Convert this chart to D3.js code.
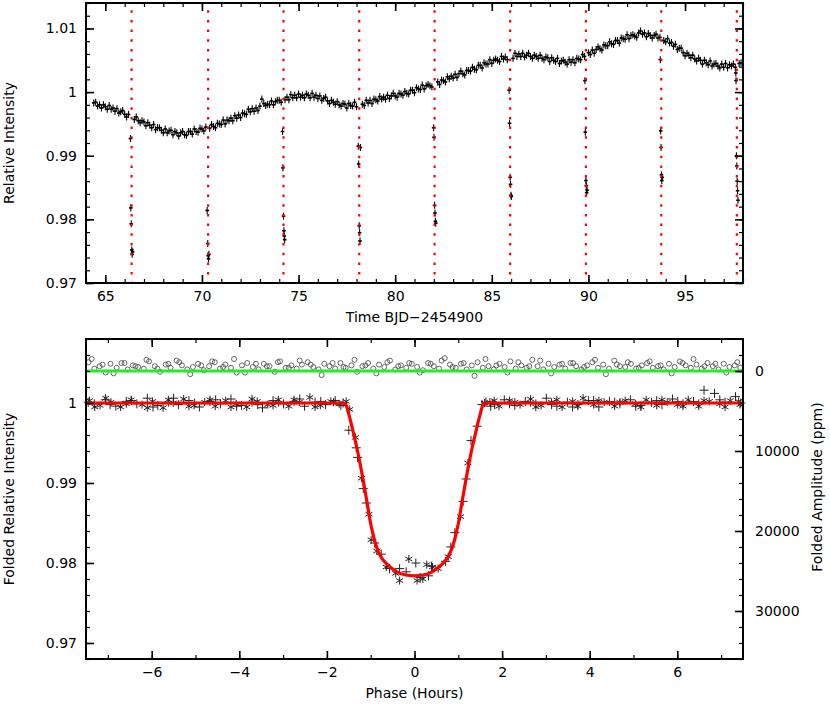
<!DOCTYPE html>
<html>
<head>
<meta charset="utf-8">
<script src="https://cdn.jsdelivr.net/npm/d3@7"></script>
<style>
  body { margin: 0; background: #fff; }
  text { font-family: "DejaVu Sans", sans-serif; font-size: 14px; fill: #000; }
</style>
</head>
<body>
<script>
// light curve out of transit: [time BJD-2454900, relative intensity]
var lightCurve = [
  [64.4,0.9983],[64.5,0.9984],[64.6,0.9978],[64.7,0.9980],[64.8,0.9975],[64.9,0.9980],
  [65.0,0.9977],[65.1,0.9973],[65.2,0.9979],[65.3,0.9973],[65.4,0.9975],[65.5,0.9970],[65.6,0.9974],[65.7,0.9967],[65.8,0.9969],[65.9,0.9971],
  [66.0,0.9965],[66.1,0.9961],[66.2,0.9965],[66.5,0.9957],[66.6,0.9961],[66.7,0.9955],[66.8,0.9952],[66.9,0.9955],
  [67.0,0.9953],[67.1,0.9947],[67.2,0.9952],[67.3,0.9948],[67.4,0.9944],[67.5,0.9949],[67.6,0.9941],[67.7,0.9944],[67.8,0.9944],[67.9,0.9940],
  [68.0,0.9936],[68.1,0.9942],[68.2,0.9936],[68.3,0.9939],[68.4,0.9940],[68.5,0.9933],[68.6,0.9938],[68.7,0.9936],[68.8,0.9931],[68.9,0.9936],
  [69.0,0.9938],[69.1,0.9933],[69.2,0.9932],[69.3,0.9938],[69.4,0.9938],[69.5,0.9934],[69.6,0.9942],[69.7,0.9938],[69.8,0.9937],[69.9,0.9943],
  [70.0,0.9942],[70.1,0.9939],[70.2,0.9945],[70.4,0.9943],[70.5,0.9949],[70.6,0.9946],[70.7,0.9944],[70.8,0.9951],[70.9,0.9950],
  [71.0,0.9949],[71.1,0.9956],[71.2,0.9950],[71.3,0.9956],[71.4,0.9955],[71.5,0.9959],[71.6,0.9955],[71.7,0.9963],[71.8,0.9959],[71.9,0.9964],
  [72.0,0.9960],[72.1,0.9967],[72.2,0.9966],[72.3,0.9965],[72.4,0.9973],[72.5,0.9969],[72.6,0.9974],[72.7,0.9970],[72.8,0.9975],[72.9,0.9971],
  [73.0,0.9978],[73.1,0.9989],[73.2,0.9982],[73.3,0.9979],[73.4,0.9981],[73.5,0.9980],[73.6,0.9986],[73.7,0.9980],[73.8,0.9985],[73.9,0.9987],
  [74.0,0.9987],[74.1,0.9984],[74.3,0.9988],[74.4,0.9992],[74.5,0.9988],[74.6,0.9996],[74.7,0.9991],[74.8,0.9995],[74.9,0.9991],
  [75.0,0.9997],[75.1,0.9992],[75.2,0.9995],[75.3,0.9991],[75.4,0.9997],[75.5,0.9995],[75.6,0.9991],[75.7,0.9998],[75.8,0.9992],[75.9,0.9995],
  [76.0,0.9990],[76.1,0.9994],[76.2,0.9987],[76.3,0.9990],[76.4,0.9992],[76.5,0.9986],[76.6,0.9982],[76.7,0.9987],[76.8,0.9984],[76.9,0.9981],
  [77.0,0.9985],[77.1,0.9980],[77.2,0.9978],[77.3,0.9982],[77.4,0.9981],[77.5,0.9975],[77.6,0.9982],[77.7,0.9979],[77.8,0.9978],[77.9,0.9984],
  [78.0,0.9977],[78.3,0.9981],[78.4,0.9979],[78.5,0.9987],[78.6,0.9983],[78.7,0.9987],[78.8,0.9982],[78.9,0.9989],
  [79.0,0.9988],[79.1,0.9986],[79.2,0.9993],[79.3,0.9989],[79.4,0.9992],[79.5,0.9989],[79.6,0.9995],[79.7,0.9990],[79.8,0.9994],[79.9,0.9998],
  [80.0,0.9994],[80.1,0.9992],[80.2,0.9998],[80.3,0.9997],[80.4,0.9995],[80.5,1.0001],[80.6,0.9998],[80.7,0.9997],[80.8,1.0003],[80.9,1.0003],
  [81.0,0.9999],[81.1,1.0007],[81.2,1.0005],[81.3,1.0004],[81.4,1.0011],[81.5,1.0005],[81.6,1.0010],[81.7,1.0012],[81.8,1.0010],[81.9,1.0008],
  [82.2,1.0016],[82.3,1.0012],[82.4,1.0019],[82.5,1.0018],[82.6,1.0016],[82.7,1.0024],[82.8,1.0021],[82.9,1.0025],
  [83.0,1.0022],[83.1,1.0028],[83.2,1.0023],[83.3,1.0029],[83.4,1.0033],[83.5,1.0029],[83.6,1.0027],[83.7,1.0034],[83.8,1.0034],[83.9,1.0033],
  [84.0,1.0039],[84.1,1.0036],[84.2,1.0035],[84.3,1.0042],[84.4,1.0042],[84.5,1.0038],[84.6,1.0046],[84.7,1.0044],[84.8,1.0044],[84.9,1.0051],
  [85.0,1.0045],[85.1,1.0050],[85.2,1.0052],[85.3,1.0050],[85.4,1.0048],[85.5,1.0056],[85.6,1.0052],[85.7,1.0055],[85.8,1.0051],
  [86.1,1.0053],[86.2,1.0061],[86.3,1.0056],[86.4,1.0060],[86.5,1.0056],[86.6,1.0061],[86.7,1.0055],[86.8,1.0058],[86.9,1.0061],
  [87.0,1.0056],[87.1,1.0053],[87.2,1.0058],[87.3,1.0056],[87.4,1.0053],[87.5,1.0058],[87.6,1.0053],[87.7,1.0051],[87.8,1.0055],[87.9,1.0054],
  [88.0,1.0048],[88.1,1.0054],[88.2,1.0050],[88.3,1.0048],[88.4,1.0053],[88.5,1.0045],[88.6,1.0049],[88.7,1.0050],[88.8,1.0047],[88.9,1.0044],
  [89.0,1.0051],[89.1,1.0047],[89.2,1.0051],[89.3,1.0046],[89.4,1.0053],[89.5,1.0052],[89.6,1.0051],[89.7,1.0059],[89.8,1.0056],
  [90.0,1.0062],[90.1,1.0059],[90.2,1.0066],[90.3,1.0061],[90.4,1.0067],[90.5,1.0071],[90.6,1.0068],[90.7,1.0066],[90.8,1.0074],[90.9,1.0073],
  [91.0,1.0073],[91.1,1.0079],[91.2,1.0076],[91.3,1.0075],[91.4,1.0081],[91.5,1.0081],[91.6,1.0077],[91.7,1.0085],[91.8,1.0084],[91.9,1.0083],
  [92.0,1.0090],[92.1,1.0084],[92.2,1.0089],[92.3,1.0090],[92.4,1.0088],[92.5,1.0086],[92.6,1.0093],[92.7,1.0096],[92.8,1.0091],[92.9,1.0093],
  [93.0,1.0087],[93.1,1.0092],[93.2,1.0089],[93.3,1.0085],[93.4,1.0089],[93.5,1.0091],[93.6,1.0085],[93.7,1.0086],[93.9,1.0081],
  [94.0,1.0079],[94.1,1.0084],[94.2,1.0077],[94.3,1.0078],[94.4,1.0072],[94.5,1.0075],[94.6,1.0067],[94.7,1.0069],[94.8,1.0069],[94.9,1.0062],
  [95.0,1.0057],[95.1,1.0061],[95.2,1.0058],[95.3,1.0054],[95.4,1.0058],[95.5,1.0052],[95.6,1.0049],[95.7,1.0053],[95.8,1.0050],[95.9,1.0044],
  [96.0,1.0050],[96.1,1.0046],[96.2,1.0043],[96.3,1.0049],[96.4,1.0041],[96.5,1.0044],[96.6,1.0045],[96.7,1.0041],[96.8,1.0038],[96.9,1.0044],
  [97.0,1.0039],[97.1,1.0045],[97.2,1.0038],[97.3,1.0043],[97.4,1.0041],[97.5,1.0044],[97.6,1.0039],[97.8,1.0045],[97.9,1.0046]
];

// points taken during the nine transits
var transitPoints = [
  [66.30,0.9927],[66.32,0.9818],[66.34,0.9793],[66.37,0.9752],[66.39,0.9745],[66.41,0.9749],
  [70.27,0.9814],[70.30,0.9762],[70.32,0.9743],[70.34,0.9738],[70.36,0.9745],
  [74.17,0.9938],[74.19,0.9881],[74.22,0.9805],[74.24,0.9782],[74.26,0.9774],[74.28,0.9768],
  [78.09,0.9915],[78.11,0.9887],[78.14,0.9790],[78.16,0.9779],[78.18,0.9766],[78.20,0.9913],
  [81.99,0.9944],[82.01,0.9929],[82.04,0.9822],[82.06,0.9810],[82.08,0.9797],[82.10,0.9794],
  [85.90,1.0003],[85.92,0.9951],[85.95,0.9866],[85.97,0.9855],[85.99,0.9838],[86.01,0.9836],
  [89.82,1.0018],[89.84,0.9937],[89.87,0.9861],[89.89,0.9853],[89.91,0.9842],[89.93,0.9846],
  [93.72,1.0051],[93.74,0.9939],[93.76,0.9913],[93.78,0.9870],[93.80,0.9861],[93.82,0.9866],
  [97.63,1.0030],[97.64,1.0018],[97.66,0.9900],[97.68,0.9884],[97.70,0.9860],[97.72,0.9845],[97.74,0.9830]
];
var lcError = 0.00055;

// mid-transit times (red dotted lines)
var transitTimes = [66.36, 70.32, 74.22, 78.14, 82.04, 85.95, 89.87, 93.77, 97.68];

// folded light curve, two symbol sets: [phase hours, relative intensity]
var foldedStar = [
  [-7.42,1.0003],[-7.18,0.9997],[-6.93,1.0001],[-6.71,0.9995],[-6.47,1.0004],[-6.22,0.9998],[-5.98,1.0002],[-5.74,0.9994],
  [-5.51,1.0000],[-5.27,1.0005],[-5.03,0.9997],[-4.79,1.0001],[-4.55,0.9996],[-4.31,1.0003],[-4.07,0.9999],[-3.83,0.9995],
  [-3.59,1.0002],[-3.35,0.9998],[-3.11,1.0004],[-2.87,0.9996],[-2.63,1.0001],[-2.39,1.0007],[-2.15,0.9997],[-1.91,1.0002],[-1.72,0.9999],
  [-7.30,0.9995],[-7.05,1.0006],[-6.58,0.9999],[-6.10,0.9994],[-5.62,1.0004],[-5.15,0.9996],[-4.67,1.0004],[-4.19,0.9995],
  [-3.71,1.0005],[-3.23,0.9997],[-2.75,1.0004],[-2.27,0.9995],[-1.85,1.0001],
  [-1.56,1.0002],[-1.48,0.9992],[-1.35,0.9957],[-1.21,0.9906],[-1.04,0.9861],[-0.99,0.9829],[-0.86,0.9815],[-0.645,0.9795],
  [-0.43,0.9787],[-0.34,0.9778],[-0.13,0.9805],[0.06,0.9778],[0.19,0.9780],[0.28,0.9798],[0.41,0.9795],[0.54,0.9793],
  [0.77,0.9808],[1.05,0.9858],[1.22,0.9925],[1.60,1.0000],
  [1.72,1.0001],[1.93,0.9996],[2.17,1.0003],[2.41,0.9998],[2.65,1.0005],[2.89,0.9997],[3.13,1.0001],[3.37,0.9995],
  [3.61,1.0002],[3.85,1.0006],[4.09,0.9998],[4.33,1.0001],[4.57,0.9996],[4.81,1.0003],[5.05,0.9999],[5.29,1.0004],
  [5.53,0.9997],[5.77,1.0001],[6.01,0.9998],[6.25,1.0004],[6.49,0.9996],[6.73,1.0002],[6.97,0.9999],[7.21,1.0003],[7.43,0.9998],
  [1.82,1.0003],[2.29,1.0001],[2.77,0.9995],[3.25,1.0004],[3.73,0.9996],[4.21,1.0003],[4.69,1.0001],[5.17,0.9995],
  [5.65,1.0004],[6.13,0.9996],[6.61,1.0003],[7.09,0.9995],[7.40,1.0002]
];
var foldedPlus = [
  [-7.31,0.9999],[-7.06,1.0004],[-6.82,0.9996],[-6.58,1.0002],[-6.34,0.9999],[-6.10,1.0006],[-5.86,0.9997],[-5.62,1.0001],
  [-5.39,0.9998],[-5.15,1.0003],[-4.91,0.9995],[-4.67,1.0002],[-4.43,0.9999],[-4.19,1.0005],[-3.95,0.9997],[-3.71,1.0001],
  [-3.47,0.9994],[-3.23,1.0003],[-2.99,0.9999],[-2.75,1.0002],[-2.51,0.9996],[-2.27,1.0001],[-2.03,0.9998],[-1.81,1.0003],[-1.63,1.0000],
  [-7.45,1.0001],[-6.95,0.9998],[-6.46,1.0003],[-5.97,0.9995],[-5.50,1.0006],[-5.02,1.0000],[-4.54,1.0004],[-4.06,0.9996],
  [-3.58,0.9998],[-3.10,1.0001],[-2.62,1.0005],[-2.14,1.0002],[-1.68,0.9997],
  [-1.50,0.9966],[-1.33,0.9944],[-1.30,0.9932],[-1.17,0.9893],[-1.10,0.9875],[-0.91,0.9825],[-0.76,0.9811],[-0.57,0.9793],
  [-0.34,0.9793],[-0.19,0.9789],[0.03,0.9800],[0.13,0.9782],[0.32,0.9784],[0.39,0.9796],[0.71,0.9802],[0.83,0.9820],
  [0.92,0.9838],[1.11,0.9877],[1.18,0.9905],[1.29,0.9953],[1.43,0.9971],[1.54,0.9998],
  [1.63,1.0001],[1.83,0.9998],[2.05,1.0004],[2.29,0.9997],[2.53,1.0002],[2.77,0.9999],[3.01,1.0006],[3.25,0.9996],
  [3.49,1.0001],[3.73,0.9998],[3.97,1.0003],[4.21,0.9995],[4.45,1.0002],[4.69,0.9999],[4.93,1.0004],[5.17,0.9997],
  [5.41,1.0001],[5.65,0.9998],[5.89,1.0005],[6.13,0.9999],[6.37,1.0002],[6.61,1.0016],[6.85,1.0012],[7.09,1.0001],[7.33,1.0008],
  [1.74,0.9996],[2.17,0.9999],[2.65,1.0001],[3.13,0.9998],[3.61,0.9995],[4.09,1.0003],[4.57,1.0001],[5.05,0.9996],
  [5.53,1.0003],[6.01,1.0002],[6.49,0.9999],[6.97,1.0004],[7.45,1.0000]
];

// transit model (red curve)
var modelCurve = [
  [-7.5,1.0000],[-1.62,1.0000],[-1.55,0.9996],[-1.50,0.9986],[-1.40,0.9964],[-1.30,0.9940],[-1.20,0.9912],[-1.10,0.9881],
  [-1.00,0.9849],[-0.90,0.9826],[-0.80,0.9811],[-0.60,0.9797],[-0.40,0.9789],[-0.20,0.9785],[0,0.9784],
  [0.20,0.9785],[0.40,0.9789],[0.60,0.9797],[0.80,0.9811],[0.90,0.9826],[1.00,0.9849],[1.10,0.9881],[1.20,0.9912],
  [1.30,0.9940],[1.40,0.9964],[1.50,0.9986],[1.55,0.9996],[1.62,1.0000],[7.5,1.0000]
];

// residuals after model subtraction (right axis, ppm)
var residualPhase = [
  -7.44,-7.31,-7.19,-7.05,-6.94,-6.80,-6.69,-6.55,-6.43,-6.31,
  -6.18,-6.06,-5.93,-5.81,-5.68,-5.57,-5.43,-5.31,-5.19,-5.06,
  -4.94,-4.81,-4.69,-4.56,-4.44,-4.32,-4.19,-4.06,-3.94,-3.82,
  -3.69,-3.56,-3.44,-3.31,-3.19,-3.07,-2.94,-2.81,-2.69,-2.57,
  -2.44,-2.31,-2.19,-2.06,-1.94,-1.81,-1.69,-1.57,-1.44,-1.31,
  -1.19,-1.06,-0.94,-0.81,-0.69,-0.56,-0.44,-0.31,-0.19,-0.06,
  0.06,0.19,0.31,0.44,0.56,0.69,0.81,0.94,1.06,1.19,
  1.31,1.44,1.56,1.69,1.81,1.94,2.06,2.19,2.31,2.44,
  2.56,2.69,2.81,2.94,3.06,3.19,3.31,3.44,3.56,3.69,
  3.81,3.94,4.06,4.19,4.31,4.44,4.56,4.69,4.81,4.94,
  5.06,5.19,5.31,5.44,5.56,5.69,5.81,5.94,6.06,6.19,
  6.31,6.44,6.56,6.69,6.81,6.94,7.06,7.19,7.31,7.44,
  -7.37,-7.12,-6.87,-6.62,-6.37,-6.12,-5.87,-5.62,-5.37,-5.12,
  -4.87,-4.62,-4.37,-4.12,-3.87,-3.62,-3.37,-3.12,-2.87,-2.62,
  -2.37,-2.12,-1.87,-1.62,-1.37,-1.12,-0.87,-0.62,-0.37,-0.12,
  0.12,0.37,0.62,0.87,1.12,1.37,1.62,1.87,2.12,2.37,
  2.62,2.87,3.12,3.37,3.62,3.87,4.12,4.37,4.62,4.87,
  5.12,5.37,5.62,5.87,6.12,6.37,6.62,6.87,7.12,7.37
];
var residualPpm = [
  -1100,-300,-600,200,-900,-400,-1000,-200,-700,-500,
  -300,-1200,-600,100,-800,-400,-1300,-700,-200,-500,
  -900,-100,-600,-1100,-300,-800,-400,200,-700,-1000,
  -500,-200,-900,-600,100,-1200,-400,-700,-300,-800,
  -1100,-500,-200,-900,-600,-300,-1000,-400,-700,100,
  -600,-1000,-300,-800,-500,-1300,-200,-700,-400,-900,
  -500,-100,-1000,-600,-300,-1600,-800,-400,-900,-200,
  -700,-1100,-400,-600,-200,-900,-500,-1200,-300,-700,
  -400,-1400,-600,-200,-900,-500,-800,-300,-1000,-600,
  -200,-700,-1100,-400,-800,-300,-1300,-600,-500,-900,
  -300,-700,-1000,-400,-600,-200,-900,-500,-1200,-700,
  -400,-800,-300,-1000,-600,-200,-900,-500,-700,-400,
  -1500,-800,300,-1000,-600,-1400,-300,-900,-1100,400,
  -700,-1200,-500,-1500,200,-900,-600,-1100,-400,-1300,
  -800,500,-1000,-500,-1400,-700,300,-1100,-600,-1000,
  200,-900,-1300,-500,-1000,600,-1500,-700,200,-1100,
  -600,-1300,300,-900,-1000,-500,-1400,400,-800,-1100,
  -400,-1200,-700,300,-1000,-1500,-600,-900,200,-1100
];
var residualZero = [[-7.5, 0], [7.5, 0]];

// tick labels
var timeTicks = [65, 70, 75, 80, 85, 90, 95];
var intensityTicks = [0.97, 0.98, 0.99, 1, 1.01];
var phaseTicks = [-6, -4, -2, 0, 2, 4, 6];
var foldedTicks = [0.97, 0.98, 0.99, 1];
var ppmTicks = [0, 10000, 20000, 30000];


// page layout
var p = {
    width: 830,
    height: 710,
    left: 86,
    right: 743,
    top1: 3,
    bottom1: 283,
    top2: 339,
    bottom2: 659,
};

var svg = d3.select("body").append("svg").attr("width", p.width).attr("height", p.height);

// scales
var xTime = d3.scaleLinear().domain([64, 98]).range([p.left, p.right]);
var yInt = d3.scaleLinear().domain([0.97, 1.014]).range([p.bottom1, p.top1]);
var xPhase = d3.scaleLinear().domain([-7.5, 7.5]).range([p.left, p.right]);
var yFold = d3.scaleLinear().domain([0.968, 1.008]).range([p.bottom2, p.top2]);
var yPpm = d3.scaleLinear().domain([-4000, 36000]).range([p.top2, p.bottom2]);

function label(d) {
    return d < 0 ? "\u2212" + (-d) : String(d);
}

// draws one axis and cleans up d3's default styling
function drawAxis(axis, x, y, major) {
    var g = svg.append("g")
        .attr("transform", "translate(" + x + "," + y + ")")
        .call(axis)
        .attr("font-size", null)
        .attr("font-family", null);
    g.select(".domain").remove();
    g.selectAll(".tick line").attr("stroke", "#000").attr("stroke-width", major ? 1.6 : 1.2);
    g.selectAll(".tick text").attr("fill", "#000");
    return g;
}

// inward ticks on all four sides of a panel
function panelAxes(xs, ys, top, bottom, xMajor, xMinor, yMajor, yMinor, rightLabels) {
    drawAxis(d3.axisBottom(xs).tickValues(xMinor).tickSize(-4).tickFormat(""), 0, bottom);
    drawAxis(d3.axisBottom(xs).tickValues(xMajor).tickSize(-8).tickPadding(8.5).tickFormat(label), 0, bottom, true);
    drawAxis(d3.axisTop(xs).tickValues(xMinor).tickSize(-4).tickFormat(""), 0, top);
    drawAxis(d3.axisTop(xs).tickValues(xMajor).tickSize(-8).tickFormat(""), 0, top, true);
    drawAxis(d3.axisLeft(ys).tickValues(yMinor).tickSize(-4).tickFormat(""), p.left, 0);
    drawAxis(d3.axisLeft(ys).tickValues(yMajor).tickSize(-8).tickPadding(9).tickFormat(label), p.left, 0, true);
    if (!rightLabels) {
        drawAxis(d3.axisRight(ys).tickValues(yMinor).tickSize(-4).tickFormat(""), p.right, 0);
        drawAxis(d3.axisRight(ys).tickValues(yMajor).tickSize(-8).tickFormat(""), p.right, 0, true);
    }
}

function frame(top, bottom) {
    svg.append("rect")
        .attr("x", p.left).attr("y", top)
        .attr("width", p.right - p.left).attr("height", bottom - top)
        .attr("fill", "none").attr("stroke", "#000").attr("stroke-width", 2);
}


// ---------- top panel: light curve ----------
var lcAll = lightCurve.concat(transitPoints);
var lcLayer = svg.append("g");

// error bars
lcLayer.selectAll("line.err").data(lcAll).enter().append("line")
    .attr("class", "err")
    .attr("x1", d => xTime(d[0])).attr("x2", d => xTime(d[0]))
    .attr("y1", d => yInt(d[1] - lcError)).attr("y2", d => yInt(d[1] + lcError))
    .attr("stroke", "#000").attr("stroke-width", 1.1);

// point marks
lcLayer.selectAll("line.pt").data(lcAll).enter().append("line")
    .attr("class", "pt")
    .attr("x1", d => xTime(d[0]) - 1.8).attr("x2", d => xTime(d[0]) + 1.8)
    .attr("y1", d => yInt(d[1])).attr("y2", d => yInt(d[1]))
    .attr("stroke", "#000").attr("stroke-width", 1.6);

// transit markers
svg.append("g").selectAll("line").data(transitTimes).enter().append("line")
    .attr("x1", d => xTime(d)).attr("x2", d => xTime(d))
    .attr("y1", p.top1).attr("y2", p.bottom1)
    .attr("stroke", "#ff0000").attr("stroke-width", 2.2)
    .attr("stroke-dasharray", "2.5,7.2").attr("stroke-dashoffset", 2.5);

panelAxes(xTime, yInt, p.top1, p.bottom1, timeTicks, d3.range(64, 98.5, 1),
          intensityTicks, d3.range(0.97, 1.0141, 0.002), false);
frame(p.top1, p.bottom1);

svg.append("text")
    .attr("x", (p.left + p.right) / 2).attr("y", 322)
    .attr("text-anchor", "middle")
    .text("Time BJD\u22122454900");

svg.append("text")
    .attr("transform", "translate(14," + (p.top1 + p.bottom1) / 2 + ") rotate(-90)")
    .attr("text-anchor", "middle")
    .text("Relative Intensity");


// ---------- bottom panel: folded transit ----------
var residuals = residualPhase.map((ph, i) => [ph, residualPpm[i]]);

svg.append("g").selectAll("circle").data(residuals).enter().append("circle")
    .attr("cx", d => xPhase(d[0])).attr("cy", d => yPpm(d[1]))
    .attr("r", 2.5)
    .attr("fill", "none").attr("stroke", "#444").attr("stroke-width", 0.8);

svg.append("path")
    .datum(residualZero)
    .attr("d", d3.line().x(d => xPhase(d[0])).y(d => yPpm(d[1])))
    .attr("fill", "none").attr("stroke", "#22ee22").attr("stroke-width", 3);

// symbol paths
function plusPath(x, y, r) {
    return "M" + (x - r) + "," + y + "H" + (x + r) + "M" + x + "," + (y - r) + "V" + (y + r);
}
function starPath(x, y, r) {
    var dx = r * Math.sqrt(3) / 2, dy = r / 2;
    return "M" + x + "," + (y - r) + "V" + (y + r) +
           "M" + (x - dx) + "," + (y - dy) + "L" + (x + dx) + "," + (y + dy) +
           "M" + (x - dx) + "," + (y + dy) + "L" + (x + dx) + "," + (y - dy);
}

svg.append("g").selectAll("path").data(foldedStar).enter().append("path")
    .attr("d", d => starPath(xPhase(d[0]), yFold(d[1]), 4))
    .attr("fill", "none").attr("stroke", "#222").attr("stroke-width", 1);

svg.append("g").selectAll("path").data(foldedPlus).enter().append("path")
    .attr("d", d => plusPath(xPhase(d[0]), yFold(d[1]), 4.5))
    .attr("fill", "none").attr("stroke", "#222").attr("stroke-width", 1);

svg.append("path")
    .datum(modelCurve)
    .attr("d", d3.line().curve(d3.curveMonotoneX).x(d => xPhase(d[0])).y(d => yFold(d[1])))
    .attr("fill", "none").attr("stroke", "#ff0000").attr("stroke-width", 3.2);

panelAxes(xPhase, yFold, p.top2, p.bottom2, phaseTicks, d3.range(-7, 7.5, 1),
          foldedTicks, d3.range(0.968, 1.0081, 0.002), true);

// right axis in ppm
drawAxis(d3.axisRight(yPpm).tickValues(d3.range(-4000, 36001, 2000)).tickSize(-4).tickFormat(""), p.right, 0);
drawAxis(d3.axisRight(yPpm).tickValues(ppmTicks).tickSize(-8).tickPadding(12).tickFormat(label), p.right, 0, true);
frame(p.top2, p.bottom2);

svg.append("text")
    .attr("x", (p.left + p.right) / 2).attr("y", 698)
    .attr("text-anchor", "middle")
    .text("Phase (Hours)");

svg.append("text")
    .attr("transform", "translate(14," + (p.top2 + p.bottom2) / 2 + ") rotate(-90)")
    .attr("text-anchor", "middle")
    .text("Folded Relative Intensity");

svg.append("text")
    .attr("transform", "translate(822,487) rotate(-90)")
    .attr("text-anchor", "middle")
    .text("Folded Amplitude (ppm)");
</script>
</body>
</html>
